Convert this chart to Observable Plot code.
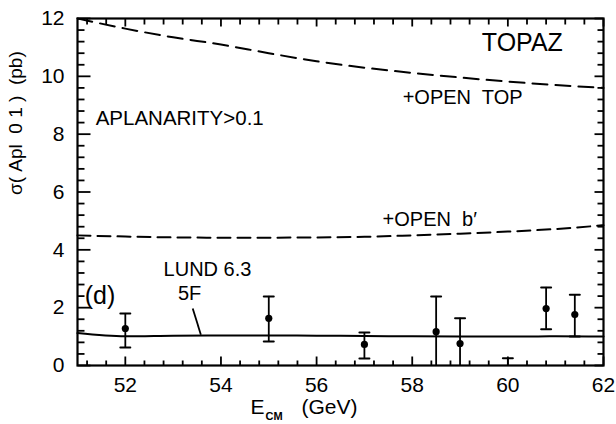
<!DOCTYPE html>
<html>
<head>
<meta charset="utf-8">
<script src="https://cdn.jsdelivr.net/npm/d3@7"></script>
<script src="https://cdn.jsdelivr.net/npm/@observablehq/plot@0.6"></script>
<style>
  html, body { margin: 0; padding: 0; background: #fff; }
  #chart svg { display: block; }
</style>
</head>
<body>
<div id="chart"></div>
<script>
// Centre-of-mass energy grid for the model curves (GeV)
const energy = [51, 52, 53, 54, 55, 56, 57, 58, 59, 60, 61, 62];
// Model cross sections (pb)
const sigmaOpenTop = [12.0, 11.65, 11.35, 11.1, 10.8, 10.52, 10.3, 10.12, 9.96, 9.82, 9.7, 9.6];
const sigmaOpenBprime = [4.5, 4.46, 4.43, 4.42, 4.42, 4.43, 4.45, 4.5, 4.56, 4.63, 4.72, 4.85];
const sigmaLund = [1.12, 1.01, 1.03, 1.04, 1.04, 1.03, 1.02, 1.01, 1.0, 1.0, 1.01, 1.0];

// Measurements with error bars
const dataE = [52, 55, 57, 58.5, 59, 60, 60.8, 61.4];
const dataSigma = [1.28, 1.63, 0.73, 1.17, 0.76, 0, 1.97, 1.76];
const dataLow = [0.62, 0.83, 0.24, 0, 0, 0, 1.25, 1.0];
const dataHigh = [1.8, 2.39, 1.14, 2.39, 1.63, 0.25, 2.7, 2.45];

// Axis ticks
const xTicks = [52, 54, 56, 58, 60, 62];
const yTicks = [0, 2, 4, 6, 8, 10, 12];
const xMinor = d3.range(51.2, 62, 0.4).map(v => +v.toFixed(1)).filter(v => !xTicks.includes(v));
const yMinor = d3.range(0.4, 12, 0.4).map(v => +v.toFixed(1)).filter(v => !yTicks.includes(v));

// Annotations (data coordinates)
const notes = [
  {text: "TOPAZ", x: 61.15, y: 11.15, size: 25, anchor: "end"},
  {text: "+OPEN  TOP", x: 57.8, y: 9.25, size: 20, anchor: "start"},
  {text: "APLANARITY>0.1", x: 51.38, y: 8.55, size: 20.5, anchor: "start"},
  {text: "+OPEN  b\u2032", x: 57.38, y: 5.05, size: 20, anchor: "start"},
  {text: "LUND 6.3", x: 52.8, y: 3.3, size: 20, anchor: "start"},
  {text: "5F", x: 53.1, y: 2.47, size: 20, anchor: "start"},
  {text: "(d)", x: 51.15, y: 2.42, size: 25, anchor: "start"}
];
// Leader from the LUND label to its curve
const leader = [{x1: 53.41, y1: 1.97, x2: 53.58, y2: 1.06}];

const yLabel = "\u03c3( Apl  0 1 )  (pb)";

const curve = (ys) => energy.map((e, i) => ({e, s: ys[i]}));
const meas = dataE.map((e, i) => ({e, s: dataSigma[i], lo: dataLow[i], hi: dataHigh[i]}));

// Short horizontal segment used for error-bar caps
const capShape = {draw(context, l) { context.moveTo(-l / 2, 0); context.lineTo(l / 2, 0); }};

const W = 616, H = 424, ML = 77, MR = 13, MT = 18, MB = 59;
const xLo = 51, xHi = 62, yLo = 0, yHi = 12;
// data units per pixel, for tick lengths given in pixels
const kx = (xHi - xLo) / (W - ML - MR);
const ky = (yHi - yLo) / (H - MT - MB);

// Segment table for the inward ticks on all four sides of the frame
const tickSegments = [
  ...yTicks.map(v => ({x1: xLo, x2: xLo + 13 * kx, y1: v, y2: v})),
  ...yMinor.map(v => ({x1: xLo, x2: xLo + 7 * kx, y1: v, y2: v})),
  ...yTicks.map(v => ({x1: xHi - 9 * kx, x2: xHi, y1: v, y2: v})),
  ...yMinor.map(v => ({x1: xHi - 6 * kx, x2: xHi, y1: v, y2: v})),
  ...xTicks.map(v => ({x1: v, x2: v, y1: yLo, y2: yLo + 9 * ky})),
  ...xMinor.map(v => ({x1: v, x2: v, y1: yLo, y2: yLo + 5 * ky})),
  ...xTicks.map(v => ({x1: v, x2: v, y1: yHi - 8 * ky, y2: yHi})),
  ...xMinor.map(v => ({x1: v, x2: v, y1: yHi - 6 * ky, y2: yHi}))
];

const font = "Liberation Sans, Arial, sans-serif";

const noteMark = (anchor) => Plot.text(notes.filter(d => d.anchor === anchor), {
  x: "x", y: "y", text: "text", fontSize: "size", textAnchor: anchor, fill: "#000"
});

const chart = Plot.plot({
  width: W,
  height: H,
  marginLeft: ML,
  marginRight: MR,
  marginTop: MT,
  marginBottom: MB,
  style: {fontFamily: font, background: "#fff", color: "#000"},
  x: {domain: [xLo, xHi]},
  y: {domain: [yLo, yHi]},
  marks: [
    Plot.frame({fill: "none", stroke: "#000", strokeWidth: 2.2}),
    Plot.axisX({ticks: xTicks, tickSize: 0, tickPadding: 12, fontSize: 21, label: null, tickFormat: d => d}),
    Plot.axisY({ticks: yTicks, tickSize: 0, tickPadding: 13, fontSize: 21, label: null, tickFormat: d => d}),
    // inward ticks
    Plot.link(tickSegments, {x1: "x1", y1: "y1", x2: "x2", y2: "y2", stroke: "#000", strokeWidth: 1.8}),
    // model curves
    Plot.line(curve(sigmaOpenTop), {x: "e", y: "s", curve: "monotone-x", stroke: "#000", strokeWidth: 2, strokeDasharray: "15,8"}),
    Plot.line(curve(sigmaOpenBprime), {x: "e", y: "s", curve: "monotone-x", stroke: "#000", strokeWidth: 2, strokeDasharray: "13,7"}),
    Plot.line(curve(sigmaLund), {x: "e", y: "s", curve: "monotone-x", stroke: "#000", strokeWidth: 2}),
    Plot.link(leader, {x1: "x1", y1: "y1", x2: "x2", y2: "y2", stroke: "#000", strokeWidth: 1.8}),
    // measurements
    Plot.ruleX(meas, {x: "e", y1: "lo", y2: "hi", stroke: "#000", strokeWidth: 1.8}),
    Plot.vector(meas, {x: "e", y: "hi", length: 10, anchor: "start", shape: capShape, stroke: "#000", strokeWidth: 2}),
    Plot.vector(meas.filter(d => d.lo > 0), {x: "e", y: "lo", length: 10, anchor: "start", shape: capShape, stroke: "#000", strokeWidth: 2}),
    Plot.dot(meas.filter(d => d.s > 0), {x: "e", y: "s", r: 3.6, fill: "#000", stroke: "none"}),
    // annotations
    noteMark("start"),
    noteMark("end"),
    // axis titles
    Plot.text([yLabel], {frameAnchor: "left", rotate: -90, dx: -62, dy: 3, fontSize: 19, fill: "#000"}),
    Plot.text(["E"], {frameAnchor: "bottom-left", dx: 173, dy: 48, textAnchor: "start", fontSize: 21, fill: "#000"}),
    Plot.text(["CM"], {frameAnchor: "bottom-left", dx: 188, dy: 54, textAnchor: "start", fontSize: 11, fontWeight: "bold", fill: "#000"}),
    Plot.text(["(GeV)"], {frameAnchor: "bottom-left", dx: 224, dy: 48, textAnchor: "start", fontSize: 21, fill: "#000"})
  ]
});

document.getElementById("chart").append(chart);
</script>
</body>
</html>
